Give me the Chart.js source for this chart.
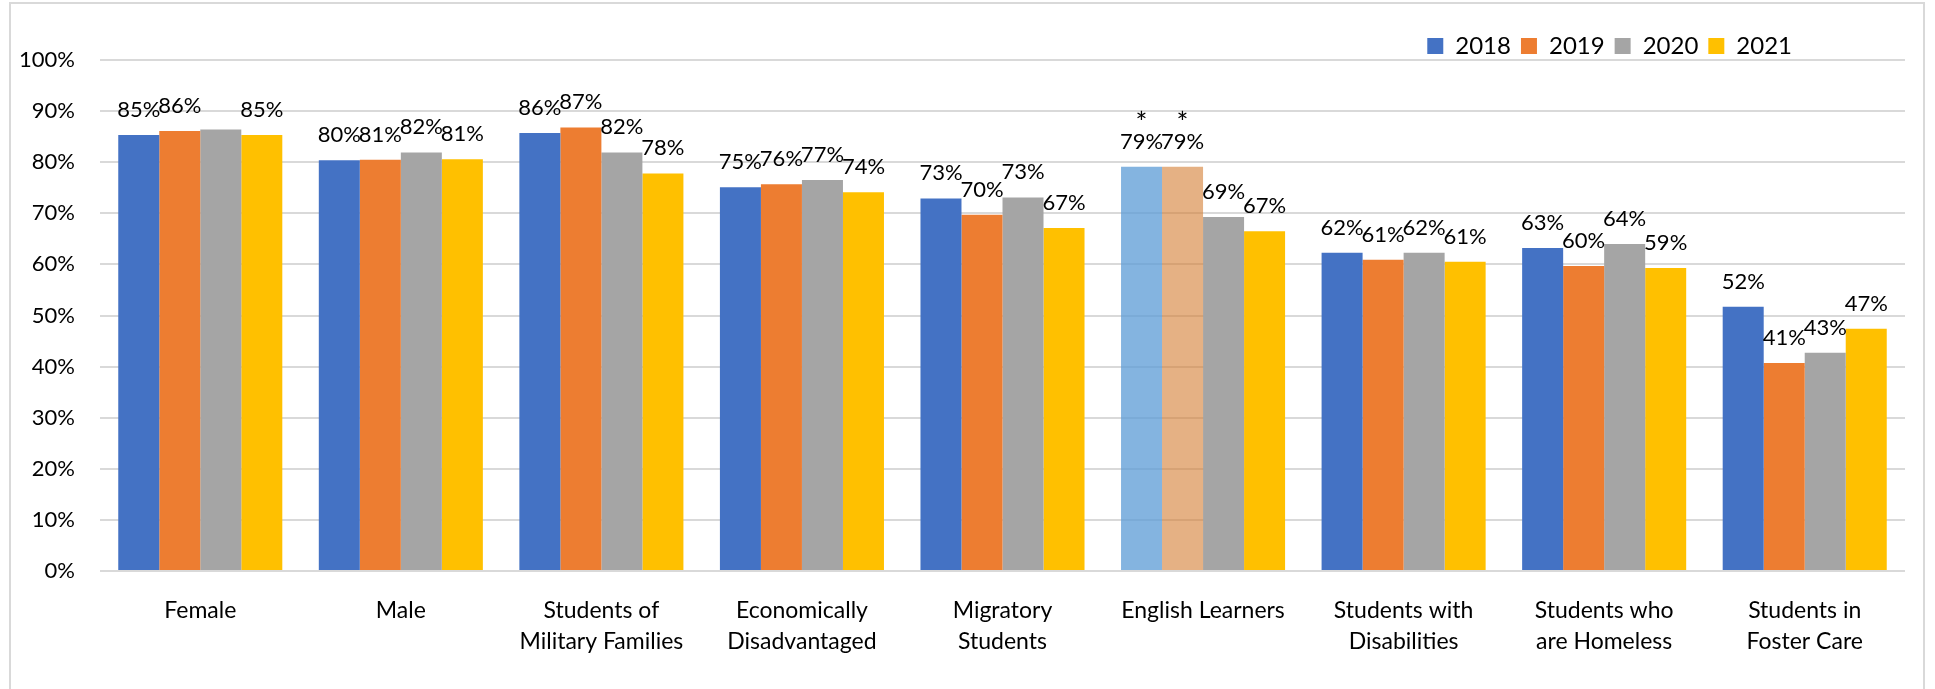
<!DOCTYPE html>
<html>
<head>
<meta charset="utf-8">
<script src="https://cdn.jsdelivr.net/npm/chart.js@4"></script>
<style>
  body { margin: 0; background: #fff; }
  #frame {
    position: absolute; left: 9px; top: 2px;
    width: 1916px; height: 690px;
    border: 2px solid #d9d9d9; box-sizing: border-box;
  }
</style>
</head>
<body>
<div id="frame"><canvas id="chart"></canvas></div>
<script>
const categories = [
  "Female",
  "Male",
  ["Students of", "Military Families"],
  ["Economically", "Disadvantaged"],
  ["Migratory", "Students"],
  "English Learners",
  ["Students with", "Disabilities"],
  ["Students who", "are Homeless"],
  ["Students in", "Foster Care"]
];
const years = ["2018", "2019", "2020", "2021"];

const values2018 = [85.3, 80.4, 85.7, 75.1, 72.9, 79.1, 62.3, 63.2, 51.7];
const values2019 = [86.1, 80.5, 86.8, 75.7, 69.7, 79.1, 60.9, 59.7, 40.7];
const values2020 = [86.4, 81.9, 81.9, 76.5, 73.1, 69.3, 62.3, 64.0, 42.7];
const values2021 = [85.3, 80.6, 77.8, 74.1, 67.1, 66.5, 60.5, 59.3, 47.4];

const yTicks = [0, 10, 20, 30, 40, 50, 60, 70, 80, 90, 100];

// bars marked with an asterisk (and drawn faded), and labels left off
const starred = [[0, 5], [1, 5]];
const noLabel = [[2, 0]];

const colors = ["#4472C4", "#ED7D31", "#A5A5A5", "#FFC000"];
const fadedColors = ["rgba(91,155,213,0.75)", "rgba(212,125,50,0.6)"];

const isIn = (list, di, i) => list.some(p => p[0] === di && p[1] === i);

const allValues = [values2018, values2019, values2020, values2021];
const datasets = years.map((y, di) => ({
  label: y,
  data: allValues[di],
  backgroundColor: allValues[di].map((v, i) =>
    isIn(starred, di, i) ? fadedColors[di] : colors[di]),
  borderWidth: 0,
  barPercentage: 1,
  categoryPercentage: 0.818
}));

const barLabels = {
  id: "barLabels",
  afterDatasetsDraw(chart) {
    const ctx = chart.ctx;
    ctx.save();
    ctx.fillStyle = "#000";
    ctx.textAlign = "center";
    ctx.textBaseline = "alphabetic";
    chart.data.datasets.forEach((ds, di) => {
      chart.getDatasetMeta(di).data.forEach((bar, i) => {
        ctx.font = "22px Lato";
        if (!isIn(noLabel, di, i)) {
          ctx.fillText(Math.round(ds.data[i]) + "%", bar.x, bar.y - 18);
        }
        if (isIn(starred, di, i)) {
          ctx.font = "28px Lato";
          ctx.fillText("*", bar.x, bar.y - 34);
        }
      });
    });
    ctx.restore();
  }
};

// legend sits a little left of the plot's right edge
const legendNudge = {
  id: "legendNudge",
  afterLayout(chart) {
    const lg = chart.legend;
    lg.left -= 103;
    lg.right -= 103;
    lg.top += 8;
    lg.bottom += 8;
  }
};

Chart.defaults.font.family = "Lato";
Chart.defaults.color = "#000";

new Chart(document.getElementById("chart"), {
  type: "bar",
  data: { labels: categories, datasets },
  plugins: [barLabels, legendNudge],
  options: {
    responsive: true,
    maintainAspectRatio: false,
    animation: false,
    layout: { padding: { top: 12, right: 18, left: 0, bottom: 0 } },
    plugins: {
      tooltip: { enabled: false },
      legend: {
        position: "top",
        align: "end",
        labels: {
          boxWidth: 16,
          boxHeight: 16,
          padding: 10,
          font: { size: 24 }
        }
      }
    },
    scales: {
      x: {
        grid: { display: false },
        border: { display: false },
        ticks: {
          font: { size: 23, lineHeight: 1.35 },
          padding: 16,
          maxRotation: 0,
          autoSkip: false
        },
        afterFit(s) { s.height = 119; }
      },
      y: {
        min: 0,
        max: 100,
        afterBuildTicks(s) { s.ticks = yTicks.map(v => ({ value: v })); },
        ticks: {
          font: { size: 22 },
          padding: 25,
          callback: v => v + "%"
        },
        grid: { color: "#d9d9d9", lineWidth: 2, drawTicks: false },
        border: { display: false },
        afterFit(s) { s.width = 89; }
      }
    }
  }
});
</script>
</body>
</html>
